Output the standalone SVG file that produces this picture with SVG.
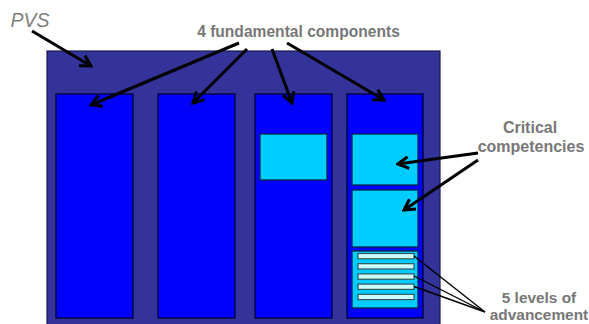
<svg xmlns="http://www.w3.org/2000/svg" width="589" height="324" viewBox="0 0 589 324">
  <style>
    .frame { fill: #333399; stroke: #1a1a4d; stroke-width: 1.2; }
    .col { fill: #0000ff; stroke: #000033; stroke-width: 1.3; }
    .comp { fill: #00ccff; stroke: #0a2a40; stroke-width: 1.3; }
    .level { fill: #ccffff; stroke: #335555; stroke-width: 1.2; }
    .label { font-family: "Liberation Sans", Arial, sans-serif; font-weight: bold; fill: #777777; text-anchor: middle; }
    .arrow { stroke: #000; stroke-width: 3; fill: none; marker-end: url(#head); }
    .thin { stroke: #000; stroke-width: 1.4; fill: none; }
  </style>
  <defs>
    <marker id="head" viewBox="0 0 12 12" refX="10" refY="6" markerWidth="14" markerHeight="14" markerUnits="userSpaceOnUse" orient="auto">
      <path d="M1,1 L10,6 L1,11" fill="none" stroke="#000" stroke-width="2.6" stroke-linejoin="miter"/>
    </marker>
  </defs>

  <g id="pvs">
    <rect class="frame" x="47" y="51" width="393" height="280"/>
  </g>

  <g id="component-1">
    <rect class="col" x="56" y="94" width="77" height="224"/>
  </g>
  <g id="component-2">
    <rect class="col" x="158" y="94" width="77" height="224"/>
  </g>
  <g id="component-3">
    <rect class="col" x="255" y="94" width="77" height="224"/>
    <rect class="comp" x="260" y="134" width="67" height="46"/>
  </g>
  <g id="component-4">
    <rect class="col" x="347" y="94" width="76" height="224"/>
    <rect class="comp" x="352" y="134" width="66" height="51"/>
    <rect class="comp" x="352" y="190" width="66" height="57"/>
    <rect class="comp" x="352" y="251" width="66" height="57"/>
    <g id="levels">
      <rect class="level" x="358" y="253.5" width="56" height="5.3"/>
      <rect class="level" x="358" y="263.7" width="56" height="5.3"/>
      <rect class="level" x="358" y="273.9" width="56" height="5.3"/>
      <rect class="level" x="358" y="284.1" width="56" height="5.3"/>
      <rect class="level" x="358" y="294.3" width="56" height="5.3"/>
    </g>
  </g>

  <g id="labels">
    <text x="30" y="27" font-family="Liberation Sans, Arial, sans-serif" font-size="19.5" font-style="italic" fill="#808080" text-anchor="middle">PVS</text>
    <text class="label" x="298.5" y="37" font-size="15.6">4 fundamental components</text>
    <text class="label" x="530" y="133" font-size="16">Critical</text>
    <text class="label" x="531" y="152" font-size="16">competencies</text>
    <text class="label" x="539" y="303" font-size="15.4">5 levels of</text>
    <text class="label" x="539" y="320" font-size="15.4">advancement</text>
  </g>

  <g id="connectors">
    <line class="arrow" x1="32" y1="31" x2="91" y2="66"/>
    <line class="arrow" x1="239" y1="43" x2="91" y2="105"/>
    <line class="arrow" x1="247" y1="49" x2="193" y2="103"/>
    <line class="arrow" x1="272" y1="49" x2="292" y2="103"/>
    <line class="arrow" x1="287" y1="43" x2="384" y2="100"/>
    <line class="arrow" x1="478" y1="153" x2="398" y2="164"/>
    <line class="arrow" x1="478" y1="160" x2="404" y2="210"/>
    <line class="thin" x1="414" y1="256" x2="485" y2="312"/>
    <line class="thin" x1="414" y1="276" x2="485" y2="312"/>
    <line class="thin" x1="414" y1="286.5" x2="485" y2="312"/>
  </g>
</svg>
